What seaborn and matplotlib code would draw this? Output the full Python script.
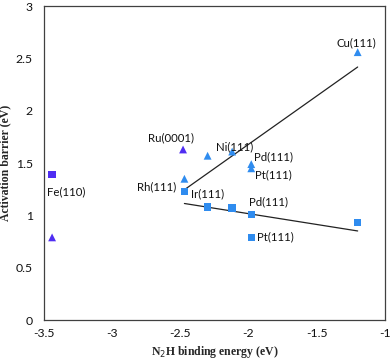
import matplotlib
matplotlib.use("Agg")
import matplotlib.pyplot as plt
import seaborn as sns
import pandas as pd
import numpy as np

# ---- data ----
tri_x = [-3.44, -2.48, -2.47, -2.30, -2.12, -1.98, -1.98, -1.20]
tri_y = [0.79, 1.63, 1.35, 1.57, 1.61, 1.49, 1.45, 2.56]
tri_group = ["purple", "purple", "blue", "blue", "blue", "blue", "blue", "blue"]

sq_x = [-3.44, -2.47, -2.30, -2.12, -1.98, -1.98, -1.20]
sq_y = [1.39, 1.23, 1.08, 1.07, 1.01, 0.79, 0.93]
sq_group = ["purple", "blue", "blue", "blue", "blue", "blue", "blue"]

labels = ["Cu(111)", "Ni(111)", "Ru(0001)", "Pd(111)", "Pt(111)",
          "Rh(111)", "Ir(111)", "Pd(111)", "Pt(111)", "Fe(110)"]
label_x = [-1.206, -2.103, -2.569, -1.96, -1.955, -2.527, -2.424, -1.994, -1.94, -3.476]
label_y = [2.65, 1.655, 1.74, 1.56, 1.385, 1.273, 1.21, 1.13, 0.796, 1.225]
label_ha = ["center", "center", "center", "left", "left", "right", "left", "left", "left", "left"]

xticks = [-3.5, -3, -2.5, -2, -1.5, -1]
yticks = [0, 0.5, 1, 1.5, 2, 2.5, 3]

palette = {"purple": "#4F2DF2", "blue": "#2F8CEF"}

tri = pd.DataFrame({"x": tri_x, "y": tri_y, "g": tri_group})
sq = pd.DataFrame({"x": sq_x, "y": sq_y, "g": sq_group})

sns.set_style("white")
plt.rcParams["font.family"] = ["Lato", "DejaVu Sans"]

fig = plt.figure(figsize=(3.92, 3.60), dpi=100)
ax = fig.add_axes([0.112, 0.111, 0.870, 0.872])

# fit lines (blue triangles; blue squares)
sns.regplot(data=tri[tri.g == "blue"], x="x", y="y", scatter=False, ci=None,
            color="#222222", line_kws={"lw": 0.9}, ax=ax, truncate=True)
sns.regplot(data=sq[sq.g == "blue"], x="x", y="y", scatter=False, ci=None,
            color="#222222", line_kws={"lw": 0.9}, ax=ax, truncate=True)

sns.scatterplot(data=tri, x="x", y="y", hue="g", palette=palette, marker="^",
                s=32, linewidth=0, legend=False, ax=ax, zorder=3)
sns.scatterplot(data=sq, x="x", y="y", hue="g", palette=palette, marker="s",
                s=28, linewidth=0, legend=False, ax=ax, zorder=3)

for t, lx, ly, ha in zip(labels, label_x, label_y, label_ha):
    ax.text(lx, ly, t, ha=ha, va="center", fontsize=8.2, color="#111111")

ax.set_xlim(-3.5, -1)
ax.set_ylim(0, 3)
ax.set_xticks(xticks)
ax.set_yticks(yticks)
ax.set_xticklabels([f"{v:g}" for v in xticks])
ax.set_yticklabels([f"{v:g}" for v in yticks])
ax.tick_params(direction="in", length=4, width=0.8, color="#555555",
               labelsize=8.8, labelcolor="#111111")
ax.tick_params(axis="x", pad=6)
ax.tick_params(axis="y", pad=8)
for s in ax.spines.values():
    s.set_visible(True)
    s.set_color("#404040")
    s.set_linewidth(0.9)

ax.set_xlabel(r"N$_2$H binding energy (eV)", family="Liberation Serif",
              fontweight="bold", fontsize=8.5, labelpad=3)
ax.set_ylabel("Activation barrier (eV)", family="Liberation Serif",
              fontweight="bold", fontsize=8.5, labelpad=3)

fig.savefig("out.png", dpi=100)
